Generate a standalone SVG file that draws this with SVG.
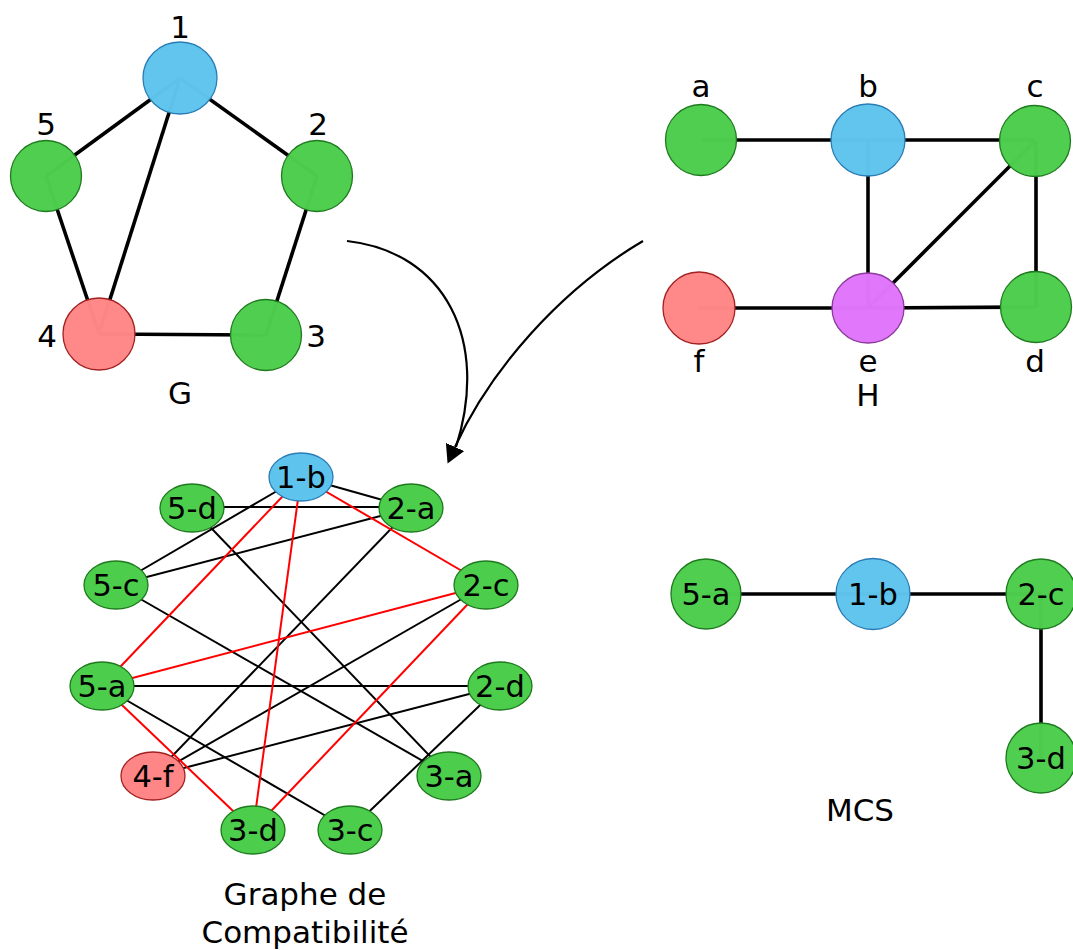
<svg xmlns="http://www.w3.org/2000/svg" width="1073" height="950" viewBox="0 0 1073 950">
<defs>
<style>
text{font-family:"DejaVu Sans","Liberation Sans",sans-serif;fill:#000;text-anchor:middle}
.lbl{font-size:31px}
.nt{font-size:30.5px}
.e{stroke:#000;stroke-width:3.6;fill:none}
.ce{stroke:#000;stroke-width:2;fill:none}
.cr{stroke:#ff0000;stroke-width:2;fill:none}
.arr{stroke:#000;stroke-width:2.2;fill:none}
.g{fill:#4ccd4c;stroke:#1e7a1e;stroke-width:1.3}
.b{fill:#5ec4ed;stroke:#2a7db5;stroke-width:1.3}
.r{fill:#ff8686;stroke:#a32020;stroke-width:1.3}
.m{fill:#e176fb;stroke:#8e3a9e;stroke-width:1.3}
.t{fill-opacity:0.985}
</style>
<marker id="ah" markerUnits="userSpaceOnUse" markerWidth="20" markerHeight="22" refX="0" refY="10" orient="auto">
<path d="M0,0 L18,10 L0,20 z" fill="#000"/>
</marker>
</defs>
<rect width="1073" height="950" fill="#fff"/>

<g id="connectors">
<!-- G -->
<line class="e" x1="180" y1="78" x2="46" y2="176"/>
<line class="e" x1="180" y1="78" x2="317" y2="176"/>
<line class="e" x1="180" y1="78" x2="99" y2="334"/>
<line class="e" x1="46" y1="176" x2="99" y2="334"/>
<line class="e" x1="317" y1="176" x2="266" y2="335"/>
<line class="e" x1="99" y1="334" x2="266" y2="335"/>
<!-- H -->
<line class="e" x1="701" y1="140" x2="868" y2="140"/>
<line class="e" x1="868" y1="140" x2="1035" y2="140"/>
<line class="e" x1="868" y1="140" x2="868" y2="308"/>
<line class="e" x1="1035" y1="141" x2="868" y2="308"/>
<line class="e" x1="1036" y1="141" x2="1036" y2="307"/>
<line class="e" x1="699" y1="308" x2="868" y2="308"/>
<line class="e" x1="868" y1="308" x2="1036" y2="307"/>
<!-- arrows -->
<path class="arr" d="M347,241 C445,252 490,340 456,447"/>
<path class="arr" d="M643,241 C560,290 490,370 455,447" marker-end="url(#ah)"/>
<!-- compatibility graph: black -->
<line class="ce" x1="301" y1="477" x2="411" y2="508"/>
<line class="ce" x1="192" y1="507" x2="411" y2="507"/>
<line class="ce" x1="116" y1="585" x2="301" y2="477"/>
<line class="ce" x1="116" y1="585" x2="411" y2="508"/>
<line class="ce" x1="192" y1="508" x2="449" y2="776"/>
<line class="ce" x1="116" y1="585" x2="449" y2="776"/>
<line class="ce" x1="102" y1="686" x2="500" y2="686"/>
<line class="ce" x1="102" y1="686" x2="350" y2="830"/>
<line class="ce" x1="153" y1="776" x2="411" y2="508"/>
<line class="ce" x1="153" y1="776" x2="486" y2="585"/>
<line class="ce" x1="153" y1="776" x2="500" y2="686"/>
<line class="ce" x1="350" y1="830" x2="500" y2="686"/>
<!-- compatibility graph: red -->
<line class="cr" x1="301" y1="477" x2="486" y2="585"/>
<line class="cr" x1="301" y1="477" x2="102" y2="686"/>
<line class="cr" x1="301" y1="477" x2="253" y2="830"/>
<line class="cr" x1="102" y1="686" x2="486" y2="585"/>
<line class="cr" x1="102" y1="686" x2="253" y2="830"/>
<line class="cr" x1="486" y1="585" x2="253" y2="830"/>
<!-- MCS -->
<line class="e" x1="706" y1="594" x2="873" y2="594"/>
<line class="e" x1="873" y1="594" x2="1041" y2="594"/>
<line class="e" x1="1041" y1="594" x2="1041" y2="758"/>
</g>

<!-- G nodes -->
<g id="G1"><ellipse class="b t" cx="180" cy="78" rx="37" ry="36"/><text class="lbl" x="180" y="38">1</text></g>
<g id="G2"><circle class="g t" cx="317" cy="176" r="35.5"/><text class="lbl" x="318" y="135">2</text></g>
<g id="G3"><circle class="g t" cx="266" cy="335" r="35.5"/><text class="lbl" x="316" y="347">3</text></g>
<g id="G4"><circle class="r t" cx="99" cy="334" r="36"/><text class="lbl" x="47" y="347">4</text></g>
<g id="G5"><circle class="g t" cx="46" cy="176" r="35.5"/><text class="lbl" x="46" y="135">5</text></g>
<g id="Glabel"><text class="lbl" x="180" y="404">G</text></g>

<!-- H nodes -->
<g id="Ha"><circle class="g t" cx="701" cy="140" r="35.5"/><text class="lbl" x="701" y="97">a</text></g>
<g id="Hb"><ellipse class="b t" cx="868" cy="140" rx="37" ry="36"/><text class="lbl" x="868" y="97">b</text></g>
<g id="Hc"><circle class="g t" cx="1035" cy="141" r="35.5"/><text class="lbl" x="1035" y="97">c</text></g>
<g id="Hd"><circle class="g t" cx="1036" cy="307" r="35.5"/><text class="lbl" x="1035" y="372">d</text></g>
<g id="He"><ellipse class="m t" cx="868" cy="308" rx="36" ry="35"/><text class="lbl" x="868" y="372">e</text></g>
<g id="Hf"><circle class="r t" cx="699" cy="308" r="36"/><text class="lbl" x="699" y="372">f</text></g>
<g id="Hlabel"><text class="lbl" x="868" y="406">H</text></g>

<!-- compatibility graph nodes -->
<g id="C1b"><ellipse class="b" cx="301" cy="477" rx="32" ry="24"/><text class="nt" x="301" y="488">1-b</text></g>
<g id="C5d"><ellipse class="g" cx="192" cy="508" rx="32" ry="24"/><text class="nt" x="192" y="519">5-d</text></g>
<g id="C2a"><ellipse class="g" cx="411" cy="508" rx="32" ry="24"/><text class="nt" x="411" y="519">2-a</text></g>
<g id="C5c"><ellipse class="g" cx="116" cy="585" rx="32" ry="24"/><text class="nt" x="116" y="596">5-c</text></g>
<g id="C2c"><ellipse class="g" cx="486" cy="585" rx="32" ry="24"/><text class="nt" x="486" y="596">2-c</text></g>
<g id="C5a"><ellipse class="g" cx="102" cy="686" rx="32" ry="24"/><text class="nt" x="102" y="697">5-a</text></g>
<g id="C2d"><ellipse class="g" cx="500" cy="686" rx="32" ry="24"/><text class="nt" x="500" y="697">2-d</text></g>
<g id="C4f"><ellipse class="r" cx="153" cy="776" rx="32" ry="24"/><text class="nt" x="153" y="787">4-f</text></g>
<g id="C3a"><ellipse class="g" cx="449" cy="776" rx="32" ry="24"/><text class="nt" x="449" y="787">3-a</text></g>
<g id="C3d"><ellipse class="g" cx="253" cy="830" rx="32" ry="24"/><text class="nt" x="253" y="841">3-d</text></g>
<g id="C3c"><ellipse class="g" cx="350" cy="830" rx="32" ry="24"/><text class="nt" x="350" y="841">3-c</text></g>
<g id="Clabel"><text class="lbl" x="305" y="905">Graphe de</text><text class="lbl" x="305" y="943">Compatibilité</text></g>

<!-- MCS nodes -->
<g id="M5a"><circle class="g t" cx="706" cy="594" r="35"/><text class="nt" x="706" y="605">5-a</text></g>
<g id="M1b"><ellipse class="b t" cx="873" cy="594" rx="37" ry="35.5"/><text class="nt" x="873" y="605">1-b</text></g>
<g id="M2c"><circle class="g t" cx="1041" cy="594" r="35"/><text class="nt" x="1041" y="605">2-c</text></g>
<g id="M3d"><circle class="g t" cx="1041" cy="758" r="35"/><text class="nt" x="1041" y="769">3-d</text></g>
<g id="Mlabel"><text class="lbl" x="860" y="821">MCS</text></g>
</svg>
